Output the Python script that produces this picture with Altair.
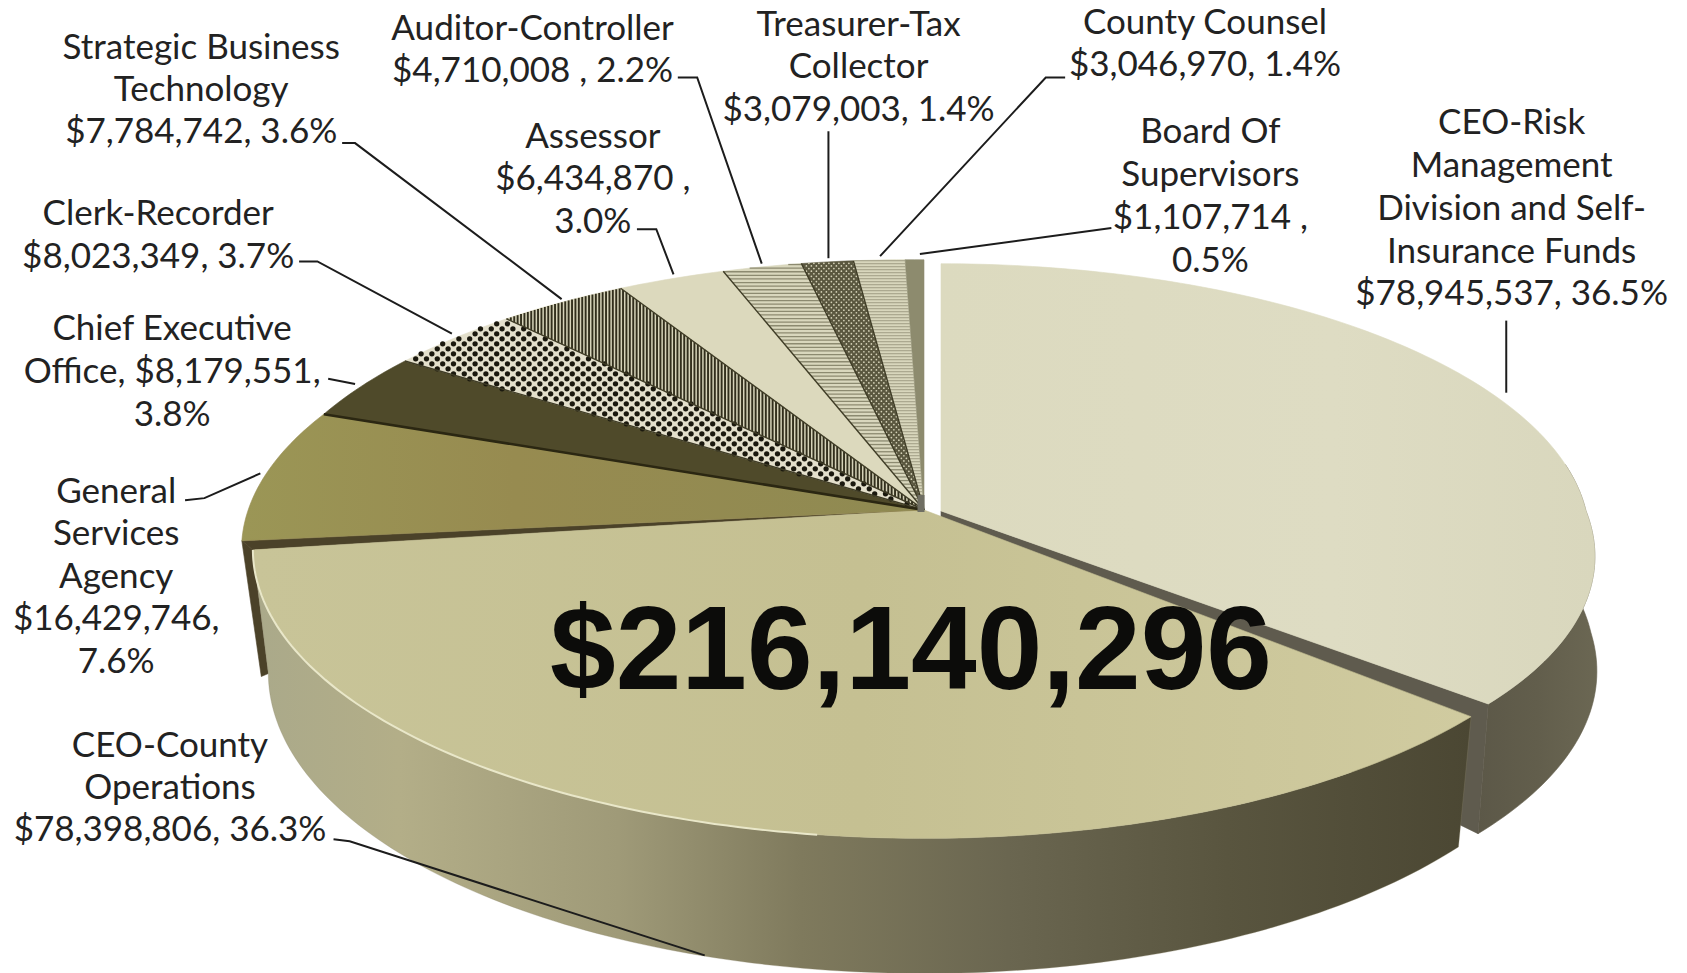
import numpy as np
import pandas as pd
import altair as alt

# --- chart values -----------------------------------------------------------
SLICE_NAMES = ["CEO-Risk", "CEO-County", "General Services", "Chief Executive", "Clerk-Recorder",
               "Strategic Business", "Assessor", "Auditor-Controller", "Treasurer-Tax",
               "County Counsel", "Board Of Supervisors"]
SLICE_VALUES = [78945537, 78398806, 16429746, 8179551, 8023349, 7784742, 6434870, 4710008, 3079003,
                3046970, 1107714]
TOTAL_LABEL = "$216,140,296"

LABEL_LINES = ["Strategic Business", "Technology", "$7,784,742, 3.6%",
               "Auditor-Controller", "$4,710,008 , 2.2%",
               "Treasurer-Tax", "Collector", "$3,079,003, 1.4%",
               "County Counsel", "$3,046,970, 1.4%",
               "Assessor", "$6,434,870 ,", "3.0%",
               "Board Of", "Supervisors", "$1,107,714 ,", "0.5%",
               "CEO-Risk", "Management", "Division and Self-", "Insurance Funds", "$78,945,537, 36.5%",
               "Clerk-Recorder", "$8,023,349, 3.7%",
               "Chief Executive", "Office, $8,179,551,", "3.8%",
               "General", "Services", "Agency", "$16,429,746,", "7.6%",
               "CEO-County", "Operations", "$78,398,806, 36.3%"]
LABEL_X = [187, 187, 187, 495, 495, 798, 798, 798, 1120, 1120, 551, 551, 551, 1125, 1125, 1125, 1125,
           1405, 1405, 1405, 1405, 1405, 147, 147, 160, 160, 160, 108, 108, 108, 108, 108, 158, 158, 158]
LABEL_Y = [45, 84, 123, 27, 66, 23, 62, 102, 21, 60, 127, 166, 206, 123, 163, 203, 243,
           114, 154, 194, 234, 273, 199, 239, 306, 346, 386, 457, 496, 536, 575, 615, 693, 732, 771]

LEADERS = [[(1400, 298), (1400, 365)],
           [(1033, 212), (855, 236)],
           [(990, 72), (972, 72), (818, 238)],
           [(770, 122), (770, 240)],
           [(630, 72), (648, 72), (708, 245)],
           [(592, 213), (610, 213), (626, 255)],
           [(318, 133), (330, 133), (522, 278)],
           [(278, 243), (295, 243), (420, 310)],
           [(305, 352), (330, 357)],
           [(172, 465), (190, 463), (242, 440)],
           [(310, 780), (325, 782), (655, 888)]]

# --- page frame -------------------------------------------------------------
PX = 1687 / 1568
W, H = 1671, 965
X_SCALE = alt.Scale(domain=[8, 8 + W], nice=False, zero=False)
Y_SCALE = alt.Scale(domain=[8 + H, 8], nice=False, zero=False)
ENC = dict(x=alt.X("x:Q", scale=X_SCALE, axis=None), y=alt.Y("y:Q", scale=Y_SCALE, axis=None))

# --- perspective ring -------------------------------------------------------
CX, CY, A, B, K = 924, 510, 665, 284, 0.135
BOT_A, BOT_B, BOT_D = 0.977, 1.04, 122
RISK = dict(cx=941, cy=511, a=645, b=272, k=0.10, skew=42)
RISK_BOTTOM = dict(cx=941, cy=511, a=650, b=272 * BOT_B, k=0.10, skew=22, dy=BOT_D)
MAIN = dict(cx=CX, cy=CY, a=A, b=B, k=K)
MAIN_BOTTOM = dict(MAIN, a=A * BOT_A, b=B * BOT_B, dy=BOT_D)
BACK = dict(MAIN, tilt=6)

def ring(t, cx, cy, a, b, k, dy=0, tilt=0, skew=0):
    r = np.radians(t)
    w = 1 + k * np.cos(r)
    sx, cy_ = np.sin(r) / w, np.cos(r) / w
    return cx + a * sx + skew * max(0.0, -cy_), cy + dy - b * cy_ + tilt * sx

def arc(t0, t1, g):
    ts = np.linspace(t0, t1, max(3, int(abs(t1 - t0)) + 2))
    return [ring(t, **g) for t in ts]

fr = np.array(SLICE_VALUES) / sum(SLICE_VALUES)
edges = np.concatenate([[0], np.cumsum(fr) * 360])
T = {n: (edges[i], edges[i + 1]) for i, n in enumerate(SLICE_NAMES)}

layers = []

def poly(pts, fill, stroke=None, sw=0.6):
    df = pd.DataFrame(pts + [pts[0]], columns=["x", "y"]).reset_index()
    layers.append(alt.Chart(df).mark_line(fill=fill, stroke=stroke or fill, strokeWidth=sw,
                                          interpolate="linear", strokeJoin="round").encode(
        order="index:Q", **ENC))

def lines(segs, color, sw, cap="butt"):
    rows = [(i, j, x, y) for i, s in enumerate(segs) for j, (x, y) in enumerate(s)]
    df = pd.DataFrame(rows, columns=["g", "index", "x", "y"])
    layers.append(alt.Chart(df).mark_line(color=color, strokeWidth=sw, strokeCap=cap).encode(
        detail="g:N", order="index:Q", **ENC))

def inside(px, py, pts):
    c = False
    n = len(pts)
    for i in range(n):
        x1, y1 = pts[i]
        x2, y2 = pts[(i + 1) % n]
        if (y1 > py) != (y2 > py) and px < x1 + (py - y1) / (y2 - y1) * (x2 - x1):
            c = not c
    return c

def scan(pts, step, horizontal=True):
    xs = [p[0] for p in pts]
    ys = [p[1] for p in pts]
    segs = []
    if horizontal:
        for y in np.arange(min(ys) + 1, max(ys), step):
            hits = []
            for i in range(len(pts)):
                x1, y1 = pts[i]
                x2, y2 = pts[(i + 1) % len(pts)]
                if (y1 > y) != (y2 > y):
                    hits.append(x1 + (y - y1) / (y2 - y1) * (x2 - x1))
            hits.sort()
            segs += [[(hits[i], y), (hits[i + 1], y)] for i in range(0, len(hits) - 1, 2)]
    else:
        for x in np.arange(min(xs) + 1, max(xs), step):
            hits = []
            for i in range(len(pts)):
                x1, y1 = pts[i]
                x2, y2 = pts[(i + 1) % len(pts)]
                if (x1 > x) != (x2 > x):
                    hits.append(y1 + (x - x1) / (x2 - x1) * (y2 - y1))
            hits.sort()
            segs += [[(x, hits[i]), (x, hits[i + 1])] for i in range(0, len(hits) - 1, 2)]
    return segs

def dots(pts, dx, dy, color, size, shape="circle"):
    xs = [p[0] for p in pts]
    ys = [p[1] for p in pts]
    rows = []
    for r, y in enumerate(np.arange(min(ys), max(ys), dy)):
        off = dx / 2 if r % 2 else 0
        for x in np.arange(min(xs) + off, max(xs), dx):
            if inside(x, y, pts):
                rows.append((x, y))
    df = pd.DataFrame(rows, columns=["x", "y"])
    layers.append(alt.Chart(df).mark_point(filled=True, color=color, size=size, opacity=1, shape=shape).encode(**ENC))

def hgrad(stops):
    return alt.Gradient(gradient="linear", x1=0, y1=0, x2=1, y2=0,
                        stops=[alt.GradientStop(offset=o, color=c) for o, c in stops])

# --- risk slice (pulled to the right) ----------------------------------------
r0, r1 = T["CEO-Risk"]
poly(arc(80, r1, RISK) + arc(r1, 80, RISK_BOTTOM), hgrad([(0, "#5c5848"), (0.5, "#625e4c"), (1, "#6b6753")]),
     stroke="#64604d")
corner = ring(r1, **RISK)
corner_b = ring(r1, **RISK_BOTTOM)
apex_r = (RISK["cx"], RISK["cy"])
poly([apex_r, corner, corner_b, (apex_r[0], apex_r[1] + 60)], "#5f5b4e")
poly([apex_r] + arc(r0, r1, RISK), hgrad([(0, "#dcdabf"), (0.6, "#dedcc3"), (1, "#d9d7bd")]), stroke="#dcdabf")

# --- general services wall, seen between the two front slices -----------------
g0, g1 = T["General Services"]
gen_arc = []
pts_ = arc(g0, g1, BACK)
for i, (x, y) in enumerate(pts_):
    f = i / (len(pts_) - 1)
    gen_arc.append((x - 11 * (1 - f), y - 3 * (1 - f)))
g_end = gen_arc[0]
c_end = ring(g0, **MAIN)
c_bot = ring(g0, **MAIN_BOTTOM)
poly([g_end, c_end, c_bot, (c_bot[0] - 7, c_bot[1] + 3)], "#4b4229")
poly([(CX, CY), g_end, c_end], "#4b4229")

# --- county slice -------------------------------------------------------------
c0, c1 = T["CEO-County"]
poly(arc(c0, c1, MAIN) + arc(c1, c0, MAIN_BOTTOM),
     hgrad([(0, "#aaa98a"), (0.12, "#b3ae88"), (0.3, "#9f9a78"), (0.45, "#7f7a5d"),
            (0.62, "#6a6650"), (0.8, "#59553f"), (1, "#4b4733")]), stroke="#8a8468", sw=0.3)
poly([(CX, CY)] + arc(c0, c1, MAIN), hgrad([(0, "#c8c498"), (0.5, "#c5c092"), (1, "#d0cba0")]), stroke="#c5c092")
lines([arc(188, c1, MAIN)], "#e9e7c9", 2)

# --- back slices ---------------------------------------------------------------
poly([(CX, CY)] + gen_arc, hgrad([(0, "#9b9656"), (0.4, "#978b50"), (1, "#8f8a52")]), stroke="#978b50")
for name, fill in [("Chief Executive", "#4f4a2a"), ("Clerk-Recorder", "#e3dfcb"),
                   ("Strategic Business", "#d6d3b9"), ("Assessor", "#dcd9bd"),
                   ("Auditor-Controller", "#d9d7bd"), ("Treasurer-Tax", "#5a573f"),
                   ("County Counsel", "#d8d6bc"), ("Board Of Supervisors", "#8d8b6e")]:
    poly([(CX, CY)] + arc(*T[name], BACK), fill)

def wedge(name):
    return [(CX, CY)] + arc(*T[name], BACK)

dots(wedge("Clerk-Recorder"), 10.8, 5, "#1a180e", 28)
lines(scan(wedge("Strategic Business"), 3.4, horizontal=False), "#312e1c", 1.9)
lines(scan(wedge("Auditor-Controller"), 3.6), "#8c8a70", 1.3)
dots(wedge("Treasurer-Tax"), 5, 2.6, "#d5d2b8", 3)
lines(scan(wedge("County Counsel"), 3), "#9f9d84", 1)

# dark seams between the back slices
seams = []
for name in ["Clerk-Recorder", "Strategic Business", "Assessor",
             "Auditor-Controller", "Treasurer-Tax", "County Counsel"]:
    seams.append([(CX, CY), ring(T[name][0], **BACK)])
lines(seams, "#3f3c26", 1.4)
lines([[(CX, CY), ring(T["Chief Executive"][0], **BACK)]], "#2b2712", 2.5)
lines([[(CX - 3, CY - 15), (CX - 3, CY + 2)]], "#6f6e63", 7)

# --- leader lines -----------------------------------------------------------------
lines([[(x * PX, y * PX) for x, y in s] for s in LEADERS], "#1c1c1c", 2)

# --- texts ------------------------------------------------------------------------
lab = pd.DataFrame({"text": LABEL_LINES, "x": np.array(LABEL_X) * PX, "y": np.array(LABEL_Y) * PX})
layers.append(alt.Chart(lab).mark_text(font="Lato", fontSize=35, color="#222222", align="center",
                                       baseline="middle").encode(text="text:N", **ENC))
tot = pd.DataFrame({"text": [TOTAL_LABEL], "x": [911], "y": [689]})
layers.append(alt.Chart(tot).mark_text(font="Liberation Sans", fontWeight="bold", fontSize=118, color="#0c0c0a",
                                       align="center", baseline="alphabetic").encode(text="text:N", **ENC))

chart = alt.layer(*layers).properties(width=W, height=H, padding=0, background="white",
                                      autosize=alt.AutoSizeParams(type="none")).configure_view(stroke=None)
chart.save("out.html", embed_options={"renderer": "svg", "actions": False})
